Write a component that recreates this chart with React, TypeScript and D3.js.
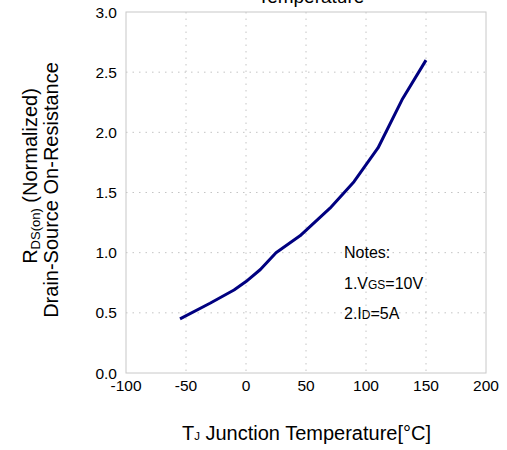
import React from "react";
import * as d3 from "d3";

const temps = [-55, -30, -10, 0, 12, 25, 45, 70, 90, 110, 130, 150];
const rdsNorm = [0.45, 0.58, 0.69, 0.76, 0.86, 1.0, 1.14, 1.37, 1.59, 1.87, 2.27, 2.6];
const xTicks = [-100, -50, 0, 50, 100, 150, 200];
const yTicks = [0, 0.5, 1.0, 1.5, 2.0, 2.5, 3.0];

const W = 507;
const H = 450;
const L = 126;
const R = 486;
const T = 12;
const B = 373;
const FONT = "Liberation Sans, Arial, sans-serif";

export default function App() {
  const x = d3.scaleLinear().domain([-100, 200]).range([L, R]);
  const y = d3.scaleLinear().domain([0, 3]).range([B, T]);
  const pts: [number, number][] = temps.map((t, i) => [t, rdsNorm[i]]);
  const line = d3
    .line<[number, number]>()
    .x((d) => x(d[0]))
    .y((d) => y(d[1]));

  return (
    <svg
      width={W}
      height={H}
      style={{ position: "absolute", left: 0, top: 0, background: "#fff" }}
      fontFamily={FONT}
    >
      <rect x={0} y={0} width={W} height={H} fill="#fff" />
      <text x={311} y={3} fontSize={19} textAnchor="middle" fill="#000">
        Temperature
      </text>
      {xTicks.slice(1, -1).map((t) => (
        <line
          key={"gx" + t}
          x1={x(t)}
          x2={x(t)}
          y1={T}
          y2={B}
          stroke="#c4c4c4"
          strokeWidth={1}
          strokeDasharray="1.5,5"
        />
      ))}
      {yTicks.slice(1, -1).map((t) => (
        <line
          key={"gy" + t}
          x1={L}
          x2={R}
          y1={y(t)}
          y2={y(t)}
          stroke="#c4c4c4"
          strokeWidth={1}
          strokeDasharray="1.5,5"
        />
      ))}
      <rect x={L} y={T} width={R - L} height={B - T} fill="none" stroke="#c8c8c8" strokeWidth={1} />
      {yTicks.map((t) => (
        <text key={"yl" + t} x={117} y={y(t) + 5.5} fontSize={15.5} textAnchor="end" fill="#000">
          {t.toFixed(1)}
        </text>
      ))}
      {xTicks.map((t) => (
        <text key={"xl" + t} x={x(t)} y={391} fontSize={15.5} textAnchor="middle" fill="#000">
          {t}
        </text>
      ))}
      <path d={line(pts) || ""} fill="none" stroke="#000080" strokeWidth={3} strokeLinejoin="round" />
      <text x={344} y={258} fontSize={16} fill="#000">Notes:</text>
      <text x={344} y={289} fontSize={16} fill="#000">
        1.V<tspan fontSize={12}>GS</tspan>=10V
      </text>
      <text x={344} y={319} fontSize={16} fill="#000">
        2.I<tspan fontSize={12}>D</tspan>=5A
      </text>
      <text x={306.5} y={440} fontSize={20} textAnchor="middle" fill="#000">
        T<tspan fontSize={11.5}>J</tspan> Junction Temperature[°C]
      </text>
      <text transform="translate(37,176) rotate(-90)" fontSize={20} textAnchor="middle" fill="#000">
        R<tspan fontSize={13} dy={3}>DS(on)</tspan>
        <tspan dy={-3}> (Normalized)</tspan>
      </text>
      <text transform="translate(58,190) rotate(-90)" fontSize={20} textAnchor="middle" fill="#000">
        Drain-Source On-Resistance
      </text>
    </svg>
  );
}
